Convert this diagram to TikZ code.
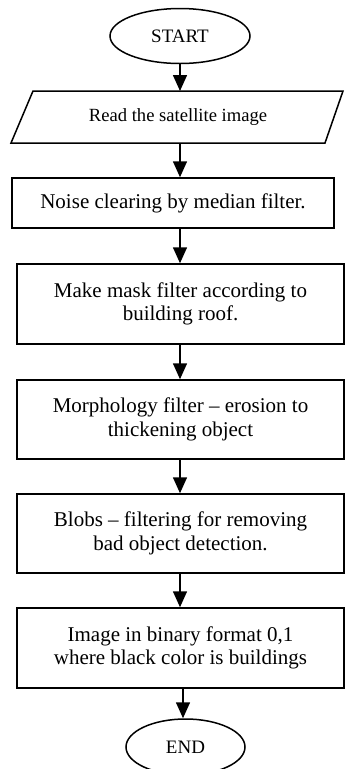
\documentclass[tikz,border=0pt]{standalone}
\usepackage{fontspec}
\setmainfont{Liberation Serif}
\usetikzlibrary{arrows.meta,shapes.geometric}
\begin{document}
\begin{tikzpicture}[x=1pt,y=-1pt,
  line width=1.5pt,
  flow/.style={-{Triangle[width=14pt,length=16pt]}},
  procbox/.style={draw, rectangle, align=center, inner sep=0pt,
    font=\fontsize{21}{23.5}\selectfont},
  term/.style={draw, ellipse, font=\fontsize{19}{21}\selectfont, inner sep=0pt}]
\useasboundingbox (0,0) rectangle (345,769);
\begin{scope}
\clip (0,0) rectangle (345,769);
% terminators
\node[term, minimum width=140pt, minimum height=55pt] (start) at (180,36) {START};
\node[term, minimum width=119pt, minimum height=56pt] (end) at (185.5,747) {END};
% input parallelogram
\draw (33,91) -- (343,91) -- (325,143) -- (11,143) -- cycle;
\node[font=\fontsize{18.6}{21}\selectfont, inner sep=0pt] (read) at (178,117) {Read the satellite image};
\coordinate (readT) at (180,91);
\coordinate (readB) at (180,143);
% process boxes
\node[procbox, minimum width=322pt, minimum height=50pt] (b1) at (173,203)
  {Noise clearing by median filter.};
\node[procbox, minimum width=327pt, minimum height=80pt] (b2) at (180.5,304)
  {Make mask filter according to\\building roof.};
\node[procbox, minimum width=327pt, minimum height=79pt] (b3) at (180.5,419.5)
  {Morphology filter -- erosion to\\thickening object};
\node[procbox, minimum width=327pt, minimum height=79pt] (b4) at (180.5,533.5)
  {Blobs -- filtering for removing\\bad object detection.};
\node[procbox, minimum width=327pt, minimum height=80pt] (b5) at (180.5,648)
  {Image in binary format 0,1\\where black color is buildings};
% connectors
\draw[flow] (start.south) -- (readT);
\draw[flow] (readB) -- (b1.north -| readB);
\draw[flow] (b1.south -| readB) -- (b2.north -| readB);
\draw[flow] (b2.south -| readB) -- (b3.north -| readB);
\draw[flow] (b3.south -| readB) -- (b4.north -| readB);
\draw[flow] (b4.south -| readB) -- (b5.north -| readB);
\draw[flow] ([xshift=2.5pt]b5.south) -- ([xshift=-2.5pt]end.north);
\end{scope}
\end{tikzpicture}
\end{document}
